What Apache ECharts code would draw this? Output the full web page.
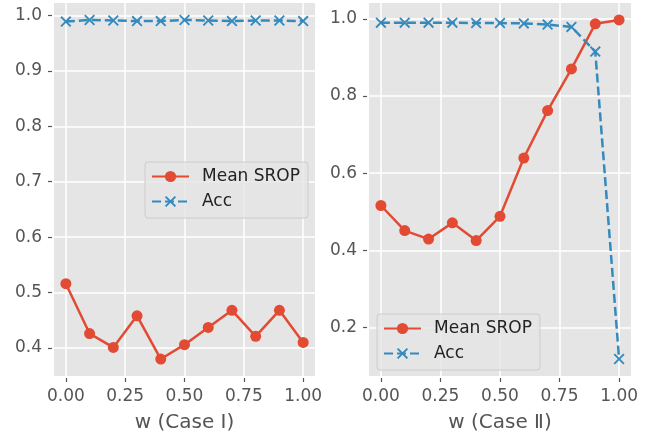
<!DOCTYPE html>
<html>
<head>
<meta charset="utf-8">
<script src="https://cdn.jsdelivr.net/npm/echarts@6/dist/echarts.min.js"></script>
<style>
  html, body { margin: 0; padding: 0; background: #fff; }
  #chart { width: 655px; height: 435px; }
</style>
</head>
<body>
<div id="chart"></div>
<script>
// w values (same for both cases)
const wValues = [0, 0.1, 0.2, 0.3, 0.4, 0.5, 0.6, 0.7, 0.8, 0.9, 1.0];
const xTicks = [0, 0.25, 0.5, 0.75, 1.0];

// Case I
const sropCase1 = [0.516, 0.426, 0.401, 0.458, 0.380, 0.406, 0.437, 0.468, 0.421, 0.468, 0.410];
const accCase1 = [0.989, 0.992, 0.991, 0.990, 0.990, 0.992, 0.991, 0.990, 0.991, 0.991, 0.990];
const yTicks1 = [0.4, 0.5, 0.6, 0.7, 0.8, 0.9, 1.0];

// Case II
const sropCase2 = [0.516, 0.451, 0.429, 0.471, 0.425, 0.488, 0.639, 0.762, 0.870, 0.987, 0.997];
const accCase2 = [0.990, 0.990, 0.990, 0.990, 0.989, 0.989, 0.988, 0.985, 0.979, 0.915, 0.118];
const yTicks2 = [0.2, 0.4, 0.6, 0.8, 1.0];

const RED = '#E24A33';
const BLUE = '#348ABD';
const FONT = 'DejaVu Sans';
// thick "x" marker
const X_MARK = 'path://M0,12L12,0L100,88L88,100ZM88,0L100,12L12,100L0,88Z';

function pairs(ys) { return wValues.map((w, i) => [w, ys[i]]); }

// matplotlib style 5% margins
function limits(arrs) {
  const all = [].concat(...arrs);
  const lo = Math.min(...all), hi = Math.max(...all);
  const m = (hi - lo) * 0.05;
  return [lo - m, hi + m];
}

function xAxis(idx, name) {
  return {
    type: 'value', gridIndex: idx, min: -0.05, max: 1.05, offset: 2,
    name: name, nameLocation: 'middle', nameGap: 35,
    nameTextStyle: { color: '#555', fontSize: 20, fontFamily: FONT },
    axisLine: { show: false, onZero: false },
    axisTick: { show: true, length: 4, lineStyle: { color: '#555', width: 1.2 }, customValues: xTicks },
    axisLabel: { color: '#555', fontSize: 17, fontFamily: FONT, margin: 10, customValues: xTicks,
      formatter: v => v.toFixed(2) },
    splitLine: { show: true, lineStyle: { color: '#fff', width: 1.5 } }
  };
}

function yAxis(idx, lim, ticks) {
  return {
    type: 'value', gridIndex: idx, min: lim[0], max: lim[1], offset: 2,
    axisLine: { show: false, onZero: false },
    axisTick: { show: true, length: 4, lineStyle: { color: '#555', width: 1.2 }, customValues: ticks },
    axisLabel: { color: '#555', fontSize: 17, fontFamily: FONT, margin: 10, customValues: ticks,
      formatter: v => v.toFixed(1) },
    splitLine: { show: true, lineStyle: { color: '#fff', width: 1.5 } }
  };
}

function sropSeries(idx, ys) {
  return {
    name: 'Mean SROP', type: 'line', xAxisIndex: idx, yAxisIndex: idx,
    data: pairs(ys), symbol: 'circle', symbolSize: 11,
    lineStyle: { color: RED, width: 2.5 }, itemStyle: { color: RED }
  };
}

function accSeries(idx, ys) {
  return {
    name: 'Acc', type: 'line', xAxisIndex: idx, yAxisIndex: idx,
    data: pairs(ys), symbol: X_MARK, symbolSize: 11,
    lineStyle: { color: BLUE, width: 2.5, type: [9, 4] }, itemStyle: { color: BLUE }
  };
}

function legend(left, top) {
  return {
    left: left, top: top, orient: 'vertical',
    data: ['Mean SROP', 'Acc'],
    itemWidth: 37, itemHeight: 14, itemGap: 8,
    padding: [6, 8, 8, 6],
    backgroundColor: 'rgba(229,229,229,0.8)',
    borderColor: '#ccc', borderWidth: 1, borderRadius: 3,
    textStyle: { color: '#222', fontSize: 17, fontFamily: FONT, lineHeight: 17, padding: [0, 0, 0, 8] },
    selectedMode: false
  };
}

const chart = echarts.init(document.getElementById('chart'), null, { renderer: 'canvas' });
chart.setOption({
  animation: false,
  backgroundColor: '#fff',
  grid: [
    { left: 54, top: 3, width: 261, height: 373, show: true, backgroundColor: '#E5E5E5', borderWidth: 0,
      outerBoundsMode: 'none' },
    { left: 369, top: 3, width: 262, height: 373, show: true, backgroundColor: '#E5E5E5', borderWidth: 0,
      outerBoundsMode: 'none' }
  ],
  xAxis: [xAxis(0, 'w (Case Ⅰ)'), xAxis(1, 'w (Case Ⅱ)')],
  yAxis: [
    yAxis(0, limits([sropCase1, accCase1]), yTicks1),
    yAxis(1, limits([sropCase2, accCase2]), yTicks2)
  ],
  legend: [legend(145, 162), legend(377, 314)],
  series: [
    sropSeries(0, sropCase1), accSeries(0, accCase1),
    sropSeries(1, sropCase2), accSeries(1, accCase2)
  ]
});
</script>
</body>
</html>
